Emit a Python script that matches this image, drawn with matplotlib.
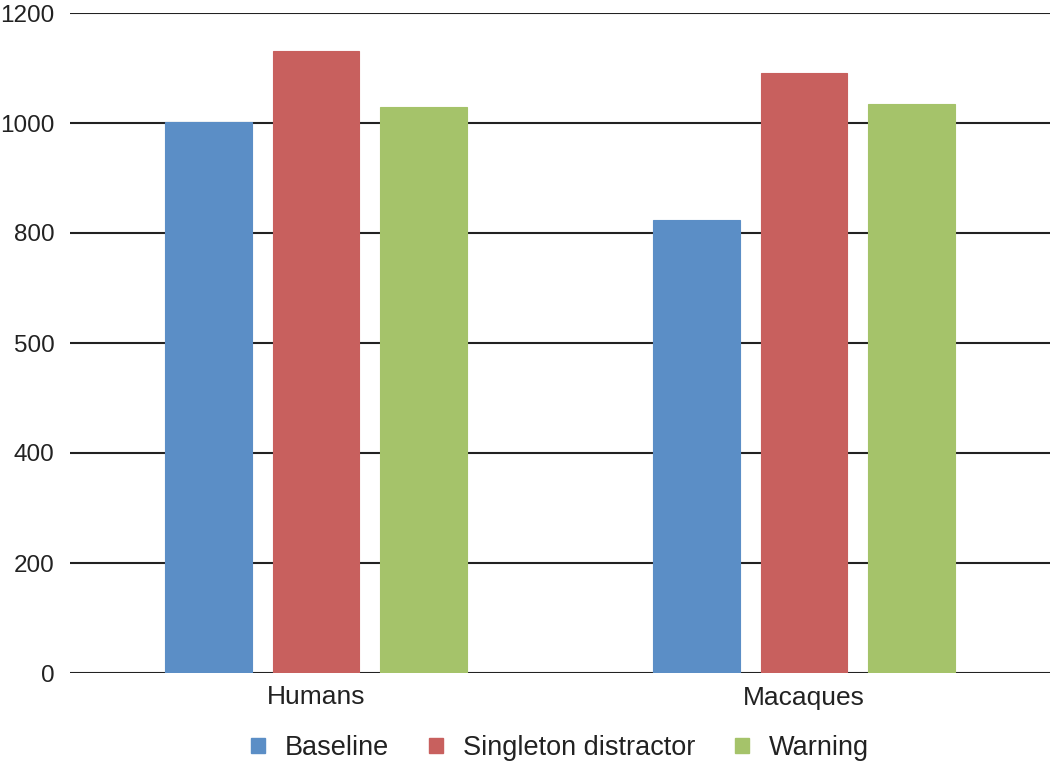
import matplotlib
matplotlib.use("Agg")
import matplotlib.pyplot as plt
from matplotlib.patches import Patch
import numpy as np

plt.rcParams['font.family'] = ['Liberation Sans', 'DejaVu Sans']

# data
groups = ["Humans", "Macaques"]
conditions = ["Baseline", "Singleton distractor", "Warning"]
baseline = [1002, 823]
singleton = [1131, 1091]
warning = [1029, 1034]
colors = ["#5B8EC6", "#C8605E", "#A5C36A"]

# tick labels as printed in the original figure (note "500" at the 600 line)
yticks = [0, 200, 400, 600, 800, 1000, 1200]
ytick_labels = ["0", "200", "400", "500", "800", "1000", "1200"]

fig = plt.figure(figsize=(10.5, 7.63), dpi=100)
ax = fig.add_axes([70 / 1050, 1 - 673 / 763, 980 / 1050, 660 / 763])

x = np.arange(len(groups))
width = 0.178
step = 0.221
for i, (vals, c) in enumerate(zip([baseline, singleton, warning], colors)):
    ax.bar(x + (i - 1) * step, vals, width, color=c, edgecolor=c, linewidth=0.8,
           zorder=3, label=conditions[i])

ax.set_ylim(0, 1200)
ax.set_xlim(-0.504, 1.504)
ax.set_yticks(yticks)
ax.set_yticklabels(ytick_labels)
ax.set_xticks(x)
ax.set_xticklabels(groups)
ax.tick_params(axis='both', length=0, colors='#222222')
ax.tick_params(axis='y', pad=11, labelsize=17.5)
ax.tick_params(axis='x', pad=9, labelsize=19)
ax.yaxis.grid(True, color='#222222', linewidth=1.5, zorder=1)
for s in ax.spines.values():
    s.set_visible(False)

handles = [Patch(facecolor=c, edgecolor=c) for c in colors]
fig.legend(handles, conditions, loc='center', bbox_to_anchor=(560 / 1050, 1 - 748 / 763),
           ncol=3, frameon=False, fontsize=19.5, handlelength=0.52, handleheight=0.52,
           handletextpad=0.75, columnspacing=1.45, labelcolor='#222222')

fig.savefig("out.png", dpi=100)
